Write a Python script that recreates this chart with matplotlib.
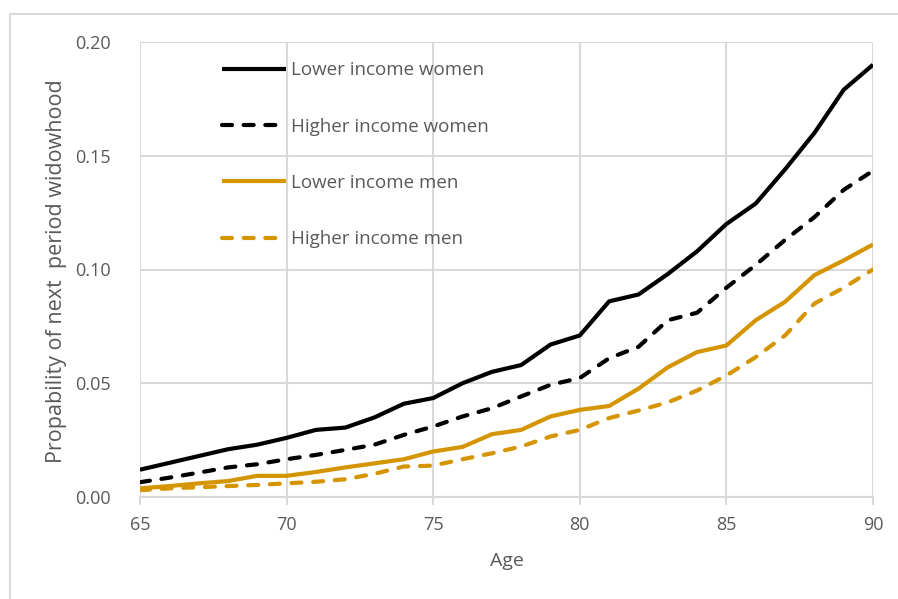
import matplotlib
matplotlib.use("Agg")
import matplotlib.pyplot as plt
from matplotlib.lines import Line2D

plt.rcParams['font.family'] = ['Open Sans', 'DejaVu Sans']

ages = list(range(65, 91))
lower_income_women = [0.012, 0.015, 0.018, 0.021, 0.023, 0.026, 0.0295, 0.0305, 0.035,
                      0.041, 0.0435, 0.050, 0.055, 0.058, 0.067, 0.071, 0.086, 0.089,
                      0.098, 0.108, 0.120, 0.129, 0.144, 0.160, 0.179, 0.190]
higher_income_women = [0.0065, 0.0085, 0.0107, 0.013, 0.0144, 0.0166, 0.0185, 0.0207, 0.023,
                       0.0273, 0.031, 0.0354, 0.039, 0.0442, 0.0493, 0.0523, 0.061, 0.066,
                       0.0777, 0.081, 0.092, 0.102, 0.113, 0.123, 0.135, 0.1434]
lower_income_men = [0.0038, 0.0048, 0.006, 0.007, 0.0093, 0.0093, 0.011, 0.013, 0.0148,
                    0.0166, 0.020, 0.022, 0.0276, 0.0295, 0.0354, 0.0383, 0.040, 0.0476,
                    0.057, 0.0637, 0.0666, 0.0777, 0.0858, 0.0975, 0.104, 0.111]
higher_income_men = [0.003, 0.0038, 0.0043, 0.0048, 0.0053, 0.006, 0.0067, 0.0078, 0.0102,
                     0.0134, 0.0138, 0.0166, 0.0192, 0.0222, 0.0266, 0.0295, 0.0347, 0.038,
                     0.0416, 0.0468, 0.0534, 0.0615, 0.071, 0.085, 0.092, 0.100]

series_labels = ["Lower income women", "Higher income women",
                 "Lower income men", "Higher income men"]
x_ticks = [65, 70, 75, 80, 85, 90]
y_ticks = [0.00, 0.05, 0.10, 0.15, 0.20]
y_tick_labels = ["0.00", "0.05", "0.10", "0.15", "0.20"]

BLACK = "#000000"
GOLD = "#D49500"
GRID = "#D9D9D9"
TEXT = "#595959"

fig = plt.figure(figsize=(8.98, 5.99), dpi=100)
ax = fig.add_axes([140 / 898, 1 - 497 / 599, 733 / 898, 455 / 599])

# thin frame along the top and left of the figure
fig.add_artist(Line2D([10 / 898, 10 / 898, 1.0], [0.0, 1 - 14 / 599, 1 - 14 / 599],
                      transform=fig.transFigure, color=GRID, lw=1.5))

dash = dict(dashes=(2.4, 2.8), dash_capstyle='round')
lw = 3.0
ax.plot(ages, lower_income_women, color=BLACK, lw=lw, solid_capstyle='butt',
        label=series_labels[0])
ax.plot(ages, higher_income_women, color=BLACK, lw=lw, label=series_labels[1], **dash)
ax.plot(ages, lower_income_men, color=GOLD, lw=lw, solid_capstyle='butt',
        label=series_labels[2])
ax.plot(ages, higher_income_men, color=GOLD, lw=lw, label=series_labels[3], **dash)

ax.set_xlim(65, 90)
ax.set_ylim(0, 0.20)
ax.set_xticks(x_ticks)
ax.set_yticks(y_ticks)
ax.set_yticklabels(y_tick_labels)

ax.grid(True, color=GRID, lw=1.5)
ax.set_axisbelow(True)
for side in ("top", "right", "left"):
    ax.spines[side].set_visible(False)
ax.spines["bottom"].set_color(GRID)
ax.spines["bottom"].set_linewidth(1.5)

ax.tick_params(axis='x', length=6, width=1.5, color=GRID, pad=8,
               labelsize=13, labelcolor=TEXT)
ax.tick_params(axis='y', length=0, pad=21, labelsize=13, labelcolor=TEXT)

ax.set_xlabel("Age", fontsize=14, color=TEXT)
ax.xaxis.set_label_coords(0.5, -0.121)
ax.set_ylabel("Propability of next  period widowhood", fontsize=15.5, color=TEXT)
ax.yaxis.set_label_coords(-0.0996, 0.496)

leg = ax.legend(loc='upper left', bbox_to_anchor=(0.112, 0.958), frameon=False,
                fontsize=13.5, handlelength=3.4, handletextpad=0.3, labelspacing=2.05,
                borderaxespad=0, borderpad=0)
for t in leg.get_texts():
    t.set_color(TEXT)

fig.savefig("out.png", dpi=100)
